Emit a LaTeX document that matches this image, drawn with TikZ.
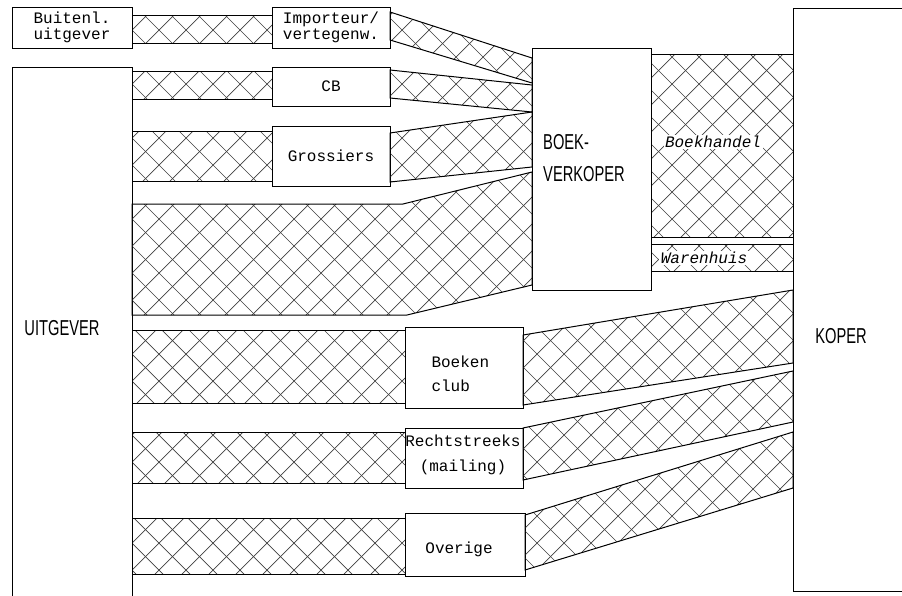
\documentclass[tikz,border=0pt]{standalone}
\usepackage{fontspec}
\setmonofont{Liberation Mono}
\newfontfamily\condsans[FakeStretch=0.68]{Liberation Sans}

% gearceerde stroom tussen twee dozen
\newcommand{\band}[1]{%
  \begin{scope}
    \clip #1;
    \foreach \i in {-600,-573,...,900} \draw[hatch] (\i,0) -- ++(600,600);
    \foreach \i in {0,27,...,1500} \draw[hatch] (\i,0) -- ++(-600,600);
  \end{scope}
  \draw[bandline] #1;
}

\begin{document}
\begin{tikzpicture}[x=1pt, y=-1pt,
    box/.style={draw, line width=1pt, fill=white, outer sep=0pt, inner sep=0pt},
    tt/.style={font=\fontsize{16}{16}\selectfont\ttfamily, align=center},
    ital/.style={font=\fontsize{16}{16}\selectfont\ttfamily\itshape, fill=white, inner sep=1.5pt},
    big/.style={font=\fontsize{21.6}{32}\selectfont\condsans, align=left, inner sep=0pt},
    hatch/.style={line width=0.7pt, black!75},
    bandline/.style={line width=1pt}]
\useasboundingbox (0,0) rectangle (902,595);

% Dozen
\node[box, tt, minimum width=120pt, minimum height=41pt] (buiten) at (72,27.5) {Buitenl.\\uitgever};
\node[box, minimum width=120pt, minimum height=533pt] (uitg) at (72,333.5) {};
\node[box, tt, minimum width=118pt, minimum height=41pt] (imp) at (331,27.5) {Importeur/\\vertegenw.};
\node[box, tt, minimum width=118pt, minimum height=39pt] (cb) at (331,86.5) {CB};
\node[box, tt, minimum width=118pt, minimum height=60pt] (gros) at (331,156) {Grossiers};
\node[box, minimum width=119pt, minimum height=242pt] (boek) at (591.5,169) {};
\node[box, minimum width=200pt, minimum height=583pt] (koper) at (893,299.5) {};
\node[box, minimum width=118pt, minimum height=81pt] (club) at (464,367.5) {};
\node[box, minimum width=118pt, minimum height=60pt] (recht) at (464,458) {};
\node[box, minimum width=120pt, minimum height=63pt] (over) at (465,544.5) {};

% Opschriften
\node[big] (uitgtxt) at (62,328) {UITGEVER};
\node[big, anchor=west] (boektxt) at (543,158) {BOEK-\\VERKOPER};
\node[big] (kopertxt) at (841,336) {KOPER};
\node[tt, align=left, anchor=west] (clubtxt) at (428,374) {Boeken\\[8pt]club};
\node[tt] (rechttxt) at (463,455) {Rechtstreeks\\[9pt](mailing)};
\node[tt] (overtxt) at (459,549) {Overige};

% Knikken in de directe stroom
\coordinate (knikboven) at (403,204);
\coordinate (knikonder) at (407,315);

% Stromen naar de boekverkoper
\band{(buiten.east |- 0,15) -- (imp.west |- 0,15) -- (imp.west |- 0,43) -- (buiten.east |- 0,43) -- cycle}
\band{(imp.east |- 0,12) -- (boek.west |- 0,58) -- (boek.west |- 0,83) -- (imp.east |- 0,40) -- cycle}
\band{(uitg.east |- 0,71) -- (cb.west |- 0,71) -- (cb.west |- 0,99) -- (uitg.east |- 0,99) -- cycle}
\band{(cb.east |- 0,70) -- (boek.west |- 0,85) -- (boek.west |- 0,112) -- (cb.east |- 0,98) -- cycle}
\band{(uitg.east |- 0,131) -- (gros.west |- 0,131) -- (gros.west |- 0,181) -- (uitg.east |- 0,181) -- cycle}
\band{(gros.east |- 0,133) -- (boek.west |- 0,112) -- (boek.west |- 0,167) -- (gros.east |- 0,182) -- cycle}
\band{(uitg.east |- 0,204) -- (knikboven) -- (boek.west |- 0,172) -- (boek.west |- 0,285) -- (knikonder) -- (uitg.east |- 0,315) -- cycle}

% Boekhandel en warenhuis
\band{(boek.east |- 0,54) -- (koper.west |- 0,54) -- (koper.west |- 0,237) -- (boek.east |- 0,237) -- cycle}
\band{(boek.east |- 0,244) -- (koper.west |- 0,244) -- (koper.west |- 0,271) -- (boek.east |- 0,271) -- cycle}
\node[ital] (handel) at (713,142) {Boekhandel};
\node[ital] (waren) at (704,258) {Warenhuis};

% Stromen buiten de boekhandel om
\band{(uitg.east |- 0,330) -- (club.west |- 0,330) -- (club.west |- 0,403) -- (uitg.east |- 0,403) -- cycle}
\band{(club.east |- 0,335) -- (koper.west |- 0,290) -- (koper.west |- 0,363) -- (club.east |- 0,405) -- cycle}
\band{(uitg.east |- 0,432) -- (recht.west |- 0,432) -- (recht.west |- 0,483) -- (uitg.east |- 0,483) -- cycle}
\band{(recht.east |- 0,428) -- (koper.west |- 0,371) -- (koper.west |- 0,422) -- (recht.east |- 0,480) -- cycle}
\band{(uitg.east |- 0,518) -- (over.west |- 0,518) -- (over.west |- 0,574) -- (uitg.east |- 0,574) -- cycle}
\band{(over.east |- 0,515) -- (koper.west |- 0,432) -- (koper.west |- 0,488) -- (over.east |- 0,570) -- cycle}
\end{tikzpicture}
\end{document}
